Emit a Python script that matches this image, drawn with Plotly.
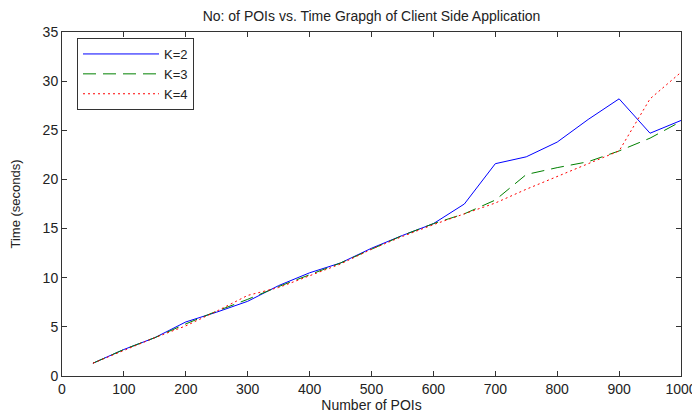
import plotly.graph_objects as go

num_pois = [50, 100, 150, 200, 250, 300, 350, 400, 450, 500, 550, 600, 650, 700, 750, 800, 850, 900, 950, 1000]
time_k2 = [1.3, 2.7, 3.9, 5.5, 6.5, 7.6, 9.2, 10.5, 11.5, 13.0, 14.3, 15.5, 17.5, 21.6, 22.3, 23.8, 26.1, 28.2, 24.7, 26.0]
time_k3 = [1.3, 2.7, 3.9, 5.3, 6.6, 7.8, 9.1, 10.3, 11.5, 12.9, 14.3, 15.5, 16.5, 17.9, 20.5, 21.2, 21.8, 22.9, 24.2, 25.9]
time_k4 = [1.3, 2.6, 3.9, 5.1, 6.6, 8.2, 9.0, 10.2, 11.4, 12.9, 14.2, 15.4, 16.5, 17.6, 19.0, 20.3, 21.6, 22.9, 28.2, 30.9]

x_ticks = list(range(0, 1001, 100))
y_ticks = list(range(0, 36, 5))

W, H = 692, 405  # page has an 8px body margin

fig = go.Figure()
fig.add_trace(go.Scatter(x=num_pois, y=time_k2, mode="lines", name="K=2",
                         line=dict(color="#0000ff", width=1)))
fig.add_trace(go.Scatter(x=num_pois, y=time_k3, mode="lines", name="K=3",
                         line=dict(color="#008000", width=1, dash="13px,7px")))
fig.add_trace(go.Scatter(x=num_pois, y=time_k4, mode="lines", name="K=4",
                         line=dict(color="#ff0000", width=1, dash="2px,3px")))

font_main = "Liberation Sans, Arial"
axis_common = dict(showgrid=False, zeroline=False, showline=True, linecolor="#333333",
                   linewidth=1, mirror="ticks", ticks="inside", ticklen=5,
                   tickcolor="#333333", automargin=False,
                   tickfont=dict(family=font_main, size=14, color="#222222"))

fig.update_layout(
    width=W, height=H,
    margin=dict(l=54, r=19, t=24, b=37, pad=0),
    paper_bgcolor="white", plot_bgcolor="white",
    title=dict(text="No: of POIs vs. Time Grapgh of Client Side Application",
               x=(54 + 673) / 2 / W, xref="container", xanchor="center",
               y=1 - 8 / H, yref="container", yanchor="middle",
               font=dict(family=font_main, size=14, color="#222222")),
    xaxis=dict(range=[0, 1000], tickvals=x_ticks, ticktext=[str(v) for v in x_ticks],
               title=dict(text="Number of POIs", standoff=0,
                          font=dict(family=font_main, size=14, color="#222222")),
               **axis_common),
    yaxis=dict(range=[0, 35], tickvals=y_ticks, ticktext=[str(v) for v in y_ticks],
               title=dict(text="Time (seconds)", standoff=20,
                          font=dict(family="Liberation Sans Narrow, Liberation Sans, Arial", size=13, color="#222222")),
               **axis_common),
    legend=dict(x=(77 - 62) / 619, y=1 - (38 - 32) / 344, xanchor="left", yanchor="top",
                bordercolor="#333333", borderwidth=1, bgcolor="white",
                itemwidth=76,
                font=dict(family=font_main, size=13, color="#222222"),
                tracegroupgap=0),
    showlegend=True,
)

fig.write_html("out.html")
